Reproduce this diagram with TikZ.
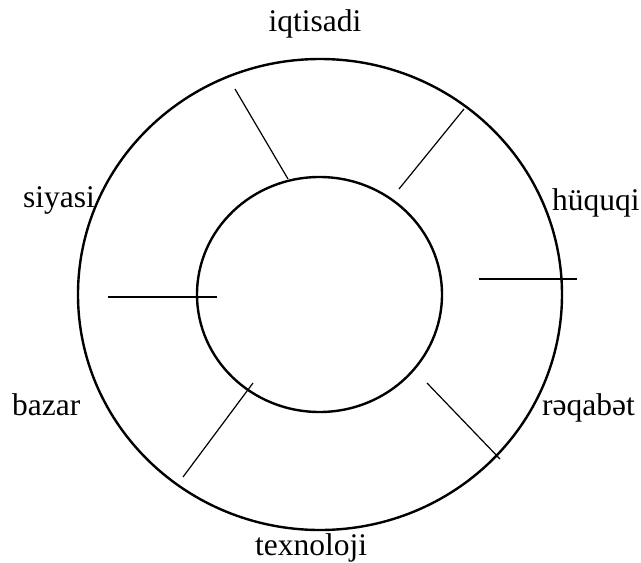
\documentclass[tikz,border=0pt]{standalone}
\usepackage{fontspec}
\setmainfont{Liberation Serif}
\begin{document}
\begin{tikzpicture}[x=1pt,y=-1pt,
  ring/.style={draw=black,line width=2.4pt,ellipse},
  spoke/.style={draw=black,line width=1.2pt},
  lbl/.style={inner sep=0pt,font=\fontsize{31.5}{36}\selectfont}]
\useasboundingbox (0,0) rectangle (641,563);
\draw[line width=2.4pt] (320,294.5) ellipse [x radius=242, y radius=235.5];
\draw[line width=2.4pt] (319.5,294.5) ellipse [x radius=122.5, y radius=117.5];
\coordinate (a1) at (235,89);  \coordinate (a2) at (288,179);
\coordinate (b1) at (464,109); \coordinate (b2) at (399,189);
\coordinate (c1) at (479,279); \coordinate (c2) at (577,279);
\coordinate (d1) at (108,297); \coordinate (d2) at (217,297);
\coordinate (e1) at (427,383); \coordinate (e2) at (500,459);
\coordinate (f1) at (253,383); \coordinate (f2) at (183,477);
\draw[spoke] (a1) -- (a2);
\draw[spoke] (b1) -- (b2);
\draw[spoke] (c1) -- (c2);
\draw[spoke] (d1) -- (d2);
\draw[spoke] (e1) -- (e2);
\draw[spoke] (f1) -- (f2);
\node[lbl,anchor=base] (iq) at (315,31) {iqtisadi};
\node[lbl,anchor=base west] (hu) at (552,210) {hüquqi};
\node[lbl,anchor=base west] (si) at (23,207) {siyasi};
\node[lbl,anchor=base west] (ba) at (12,415) {bazar};
\node[lbl,anchor=base west] (re) at (542,415) {rəqabət};
\node[lbl,anchor=base west] (te) at (255,555) {texnoloji};
\end{tikzpicture}
\end{document}
